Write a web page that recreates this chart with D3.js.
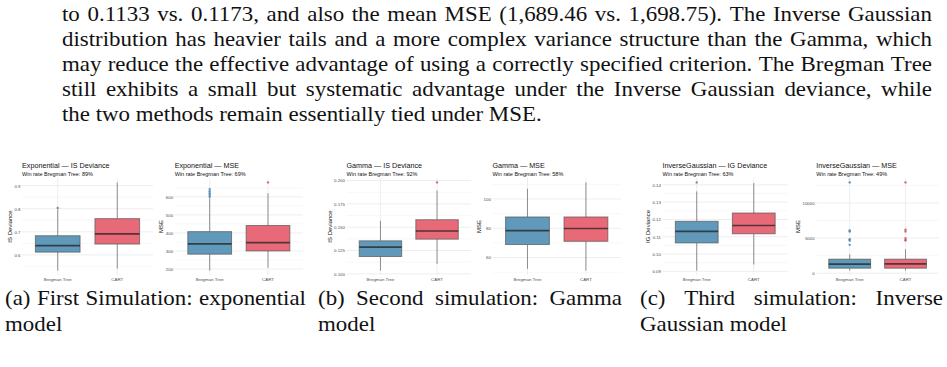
<!DOCTYPE html>
<html>
<head>
<meta charset="utf-8">
<script src="https://cdn.jsdelivr.net/npm/d3@7"></script>
<style>
  body { margin: 0; background: #fff; }
  svg { display: block; }
</style>
</head>
<body>
<script>
// ---- data ----
var paraLines = [
	"to 0.1133 vs. 0.1173, and also the mean MSE (1,689.46 vs. 1,698.75). The Inverse Gaussian",
	"distribution has heavier tails and a more complex variance structure than the Gamma, which",
	"may reduce the effective advantage of using a correctly specified criterion. The Bregman Tree",
	"still exhibits a small but systematic advantage under the Inverse Gaussian deviance, while",
	"the two methods remain essentially tied under MSE."
];
var captions = [
	["(a) First Simulation: exponential", "model"],
	["(b) Second simulation: Gamma", "model"],
	["(c) Third simulation: Inverse", "Gaussian model"]
];

var methods = ["Bregman Tree", "CART"];
var panelTitles = ["Exponential — IS Deviance", "Exponential — MSE", "Gamma — IS Deviance",
	"Gamma — MSE", "InverseGaussian — IG Deviance", "InverseGaussian — MSE"];
var winRates = ["89%", "69%", "92%", "58%", "63%", "49%"];
var yTitles = ["IS Deviance", "MSE", "IS Deviance", "MSE", "IG Deviance", "MSE"];

// [lower whisker, Q1, median, Q3, upper whisker]
var bregmanStats = [
	[0.532, 0.612, 0.640, 0.683, 0.796],
	[191, 282, 339, 407, 592],
	[0.1035, 0.1186, 0.1286, 0.1354, 0.157],
	[52.3, 68.9, 78.4, 87.7, 107],
	[0.0904, 0.1064, 0.1131, 0.1189, 0.1362],
	[371, 714, 1286, 2000, 2700]
];
var cartStats = [
	[0.540, 0.647, 0.691, 0.757, 0.914],
	[207, 300, 346, 441, 620],
	[0.1107, 0.1372, 0.146, 0.158, 0.1894],
	[51.1, 71.1, 79.8, 87.7, 111.3],
	[0.0939, 0.1117, 0.1165, 0.1237, 0.141],
	[371, 714, 1329, 2000, 3429]
];
var bregmanOutliers = [
	[0.803],
	[600, 610, 620, 631, 643],
	[],
	[],
	[0.1414],
	[4043, 4657, 4857, 5943, 6086, 12943]
];
var cartOutliers = [
	[],
	[680],
	[0.198],
	[],
	[],
	[4657, 4757, 5000, 5943, 6186, 12943]
];

var yTicks = [
	[0.6, 0.7, 0.8, 0.9],
	[200, 300, 400, 500, 600],
	[0.100, 0.125, 0.150, 0.175, 0.200],
	[60, 80, 100],
	[0.09, 0.10, 0.11, 0.12, 0.13, 0.14],
	[0, 5000, 10000]
];
var yTickLabels = [
	["0.6", "0.7", "0.8", "0.9"],
	["200", "300", "400", "500", "600"],
	["0.100", "0.125", "0.150", "0.175", "0.200"],
	["60", "80", "100"],
	["0.09", "0.10", "0.11", "0.12", "0.13", "0.14"],
	["0", "5000", "10000"]
];

// ---- layout ----
var panelLeft = [22, 174.7, 346.5, 492.4, 662.5, 816.2];
var panelRight = [153, 303, 471, 621, 788, 939];
var panelTop = 178, panelBottom = 275;
var fills = ["#6199ba", "#e86a78"];
var dots = ["#4a85ad", "#d9545f"];
var sans = "'Liberation Sans', Arial, Helvetica, sans-serif";
var serif = "'Liberation Serif', 'Times New Roman', serif";
var fontSize = 21;
var paraLeft = 62, paraRight = 932;

var svg = d3.select("body").append("svg").attr("width", 947).attr("height", 367);

var serifText = function(x, y, s) {
	return svg.append("text").attr("x", x).attr("y", y)
		.attr("font-family", serif).attr("font-size", fontSize).attr("fill", "#111")
		.text(s);
};

// widen glyphs a little toward Computer Modern, as far as the tightest
// full paragraph line still fits with normal word spaces
var stretch = d3.min(paraLines.slice(0, 4), function(s) {
	var words = s.split(" ");
	var sum = d3.sum(words, function(w) {
		var t = serifText(0, -50, w);
		var len = t.node().getComputedTextLength();
		t.remove();
		return len;
	});
	return (paraRight - paraLeft - (words.length - 1) * fontSize * 0.3) / sum;
});
stretch = Math.max(1, stretch);

// justified serif text block
var textBlock = function(lines, x0, x1, y0, lh) {
	lines.forEach(function(s, i) {
		var y = y0 + i * lh;
		if (i == lines.length - 1) {
			var t = serifText(x0, y, s);
			t.attr("textLength", t.node().getComputedTextLength() * stretch)
				.attr("lengthAdjust", "spacingAndGlyphs");
			return;
		}
		var words = s.split(" ");
		var nodes = words.map(function(w) { return serifText(0, y, w); });
		var widths = nodes.map(function(n) {
			var w = n.node().getComputedTextLength() * stretch;
			n.attr("textLength", w).attr("lengthAdjust", "spacingAndGlyphs");
			return w;
		});
		var gap = (x1 - x0 - d3.sum(widths)) / (words.length - 1);
		var cx = x0;
		nodes.forEach(function(n, k) {
			n.attr("x", cx);
			cx += widths[k] + gap;
		});
	});
};

textBlock(paraLines, paraLeft, paraRight, 20.5, 25);
textBlock(captions[0], 5, 306, 305, 26);
textBlock(captions[1], 318, 622, 305, 26);
textBlock(captions[2], 640, 943, 305, 26);

// ---- panels ----
panelTitles.forEach(function(title, p) {
	var left = panelLeft[p], right = panelRight[p];
	var g = svg.append("g");

	var all = bregmanStats[p].concat(cartStats[p], bregmanOutliers[p], cartOutliers[p]);
	var ext = d3.extent(all);
	var pad = (ext[1] - ext[0]) * 0.05;
	var y = d3.scaleLinear().domain([ext[0] - pad, ext[1] + pad]).range([panelBottom, panelTop]);
	var x = d3.scaleBand().domain(methods).range([left, right])
		.paddingInner(0.25).paddingOuter(0.225);

	var ticks = yTicks[p];
	var step = ticks[1] - ticks[0];
	var minor = [];
	for (var k = -1; k < ticks.length; k++) {
		var v = ticks[0] + (k + 0.5) * step;
		if (v >= y.domain()[0] && v <= y.domain()[1]) minor.push(v);
	}

	g.selectAll(".minor").data(minor).enter().append("line")
		.attr("x1", left).attr("x2", right)
		.attr("y1", function(d) { return y(d); }).attr("y2", function(d) { return y(d); })
		.attr("stroke", "#ececec").attr("stroke-width", 0.4);
	g.selectAll(".major").data(ticks).enter().append("line")
		.attr("x1", left).attr("x2", right)
		.attr("y1", function(d) { return y(d); }).attr("y2", function(d) { return y(d); })
		.attr("stroke", "#e6e6e6").attr("stroke-width", 0.7);
	g.selectAll(".vgrid").data(methods).enter().append("line")
		.attr("x1", function(d) { return x(d) + x.bandwidth() / 2; })
		.attr("x2", function(d) { return x(d) + x.bandwidth() / 2; })
		.attr("y1", panelTop).attr("y2", panelBottom)
		.attr("stroke", "#e6e6e6").attr("stroke-width", 0.7);

	var stats = [bregmanStats[p], cartStats[p]];
	var outs = [bregmanOutliers[p], cartOutliers[p]];

	methods.forEach(function(m, i) {
		var s = stats[i];
		var cx = x(m) + x.bandwidth() / 2;
		g.append("line").attr("x1", cx).attr("x2", cx)
			.attr("y1", y(s[0])).attr("y2", y(s[1]))
			.attr("stroke", "#555").attr("stroke-opacity", 0.8).attr("stroke-width", 0.8);
		g.append("line").attr("x1", cx).attr("x2", cx)
			.attr("y1", y(s[3])).attr("y2", y(s[4]))
			.attr("stroke", "#555").attr("stroke-opacity", 0.8).attr("stroke-width", 0.8);
		g.append("rect")
			.attr("x", x(m)).attr("y", y(s[3]))
			.attr("width", x.bandwidth()).attr("height", y(s[1]) - y(s[3]))
			.attr("fill", fills[i])
			.attr("stroke", "#555").attr("stroke-opacity", 0.7).attr("stroke-width", 1);
		g.append("line").attr("x1", x(m)).attr("x2", x(m) + x.bandwidth())
			.attr("y1", y(s[2])).attr("y2", y(s[2]))
			.attr("stroke", "#222").attr("stroke-opacity", 0.75).attr("stroke-width", 1.6);
		g.selectAll(".out" + i).data(outs[i]).enter().append("circle")
			.attr("cx", cx).attr("cy", function(d) { return y(d); })
			.attr("r", 1.2).attr("fill", dots[i]).attr("fill-opacity", 0.85);
	});

	// y axis
	var ya = g.append("g").attr("transform", "translate(" + (left - 1.5) + ",0)")
		.call(d3.axisLeft(y).tickValues(ticks)
			.tickFormat(function(d, i) { return yTickLabels[p][i]; })
			.tickSize(0).tickPadding(0));
	ya.select(".domain").remove();
	ya.selectAll("text").attr("font-family", sans).attr("font-size", 4.4).attr("fill", "#4d4d4d");
	var maxW = d3.max(ya.selectAll("text").nodes(), function(n) { return n.getComputedTextLength(); });

	// x axis
	var xa = g.append("g").attr("transform", "translate(0," + panelBottom + ")")
		.call(d3.axisBottom(x).tickSize(0).tickPadding(3));
	xa.select(".domain").remove();
	xa.selectAll("text").attr("font-family", sans).attr("font-size", 4.4).attr("fill", "#4d4d4d");

	// titles
	g.append("text").attr("x", left).attr("y", 167.5)
		.attr("font-family", sans).attr("font-size", 7.2).attr("fill", "#111")
		.text(title);
	g.append("text").attr("x", left).attr("y", 175.5)
		.attr("font-family", sans).attr("font-size", 5.5).attr("fill", "#111")
		.text("Win rate Bregman Tree: " + winRates[p]);

	var tx = left - 1.5 - maxW - 2.5;
	var ty = (panelTop + panelBottom) / 2;
	g.append("text")
		.attr("transform", "translate(" + tx + "," + ty + ") rotate(-90)")
		.attr("text-anchor", "middle")
		.attr("font-family", sans).attr("font-size", 6).attr("fill", "#111")
		.text(yTitles[p]);
});
</script>
</body>
</html>
